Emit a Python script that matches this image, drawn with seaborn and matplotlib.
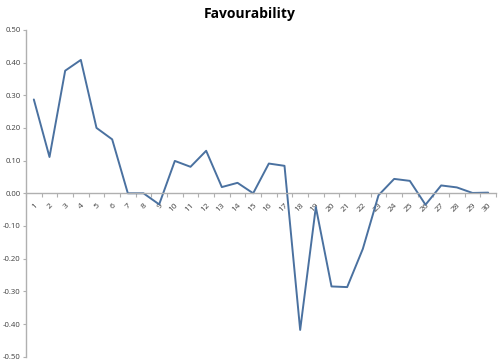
import matplotlib
matplotlib.use("Agg")
import matplotlib.pyplot as plt
import seaborn as sns
import pandas as pd
from matplotlib.ticker import FixedLocator, FuncFormatter

periods = list(range(1, 31))
favourability = [0.287, 0.111, 0.375, 0.408, 0.200, 0.165, 0.000, 0.000, -0.034, 0.099,
                 0.081, 0.130, 0.019, 0.032, 0.000, 0.091, 0.084, -0.418, -0.042, -0.285,
                 -0.287, -0.170, -0.006, 0.044, 0.038, -0.035, 0.024, 0.018, 0.001, 0.002]
y_ticks = [-0.5, -0.4, -0.3, -0.2, -0.1, 0.0, 0.1, 0.2, 0.3, 0.4, 0.5]
title = "Favourability"

df = pd.DataFrame({"period": periods, "value": favourability})

sns.set_style("white")
plt.rcParams["font.family"] = ["Open Sans", "DejaVu Sans"]

fig = plt.figure(figsize=(5.0, 3.64), dpi=100)
ax = fig.add_axes([0.052, 0.020, 0.940, 0.898])

sns.lineplot(data=df, x="period", y="value", ax=ax, color="#4a71a0", linewidth=1.4)

ax.set_xlim(0.5, 30.5)
ax.set_ylim(-0.5, 0.5)
ax.set_xlabel("")
ax.set_ylabel("")

grey = "#b0b0b0"
for s in ["top", "right"]:
    ax.spines[s].set_visible(False)
ax.spines["left"].set_color(grey)
ax.spines["left"].set_linewidth(1.0)
ax.spines["bottom"].set_position(("data", 0))
ax.spines["bottom"].set_color(grey)
ax.spines["bottom"].set_linewidth(1.0)

ax.yaxis.set_major_locator(FixedLocator(y_ticks))
ax.yaxis.set_major_formatter(FuncFormatter(lambda v, p: f"{v:.2f}"))
ax.tick_params(axis="y", which="major", direction="out", length=2.5, width=0.8,
               color=grey, labelsize=5.6, labelcolor="#404040", pad=1.5, left=True)

ax.set_xticks(periods)
ax.set_xticklabels([str(p) for p in periods], rotation=45, ha="right", rotation_mode="anchor")
ax.tick_params(axis="x", which="major", length=0, labelsize=6, labelcolor="#404040", pad=6)
ax.set_xticks([p + 0.5 for p in [0] + periods], minor=True)
ax.tick_params(axis="x", which="minor", direction="out", length=3, width=0.8, color=grey, bottom=True)

fig.text(0.5, 0.962, title, ha="center", va="center", fontsize=10, fontweight="bold", color="#000000")

fig.savefig("out.png", dpi=100)
